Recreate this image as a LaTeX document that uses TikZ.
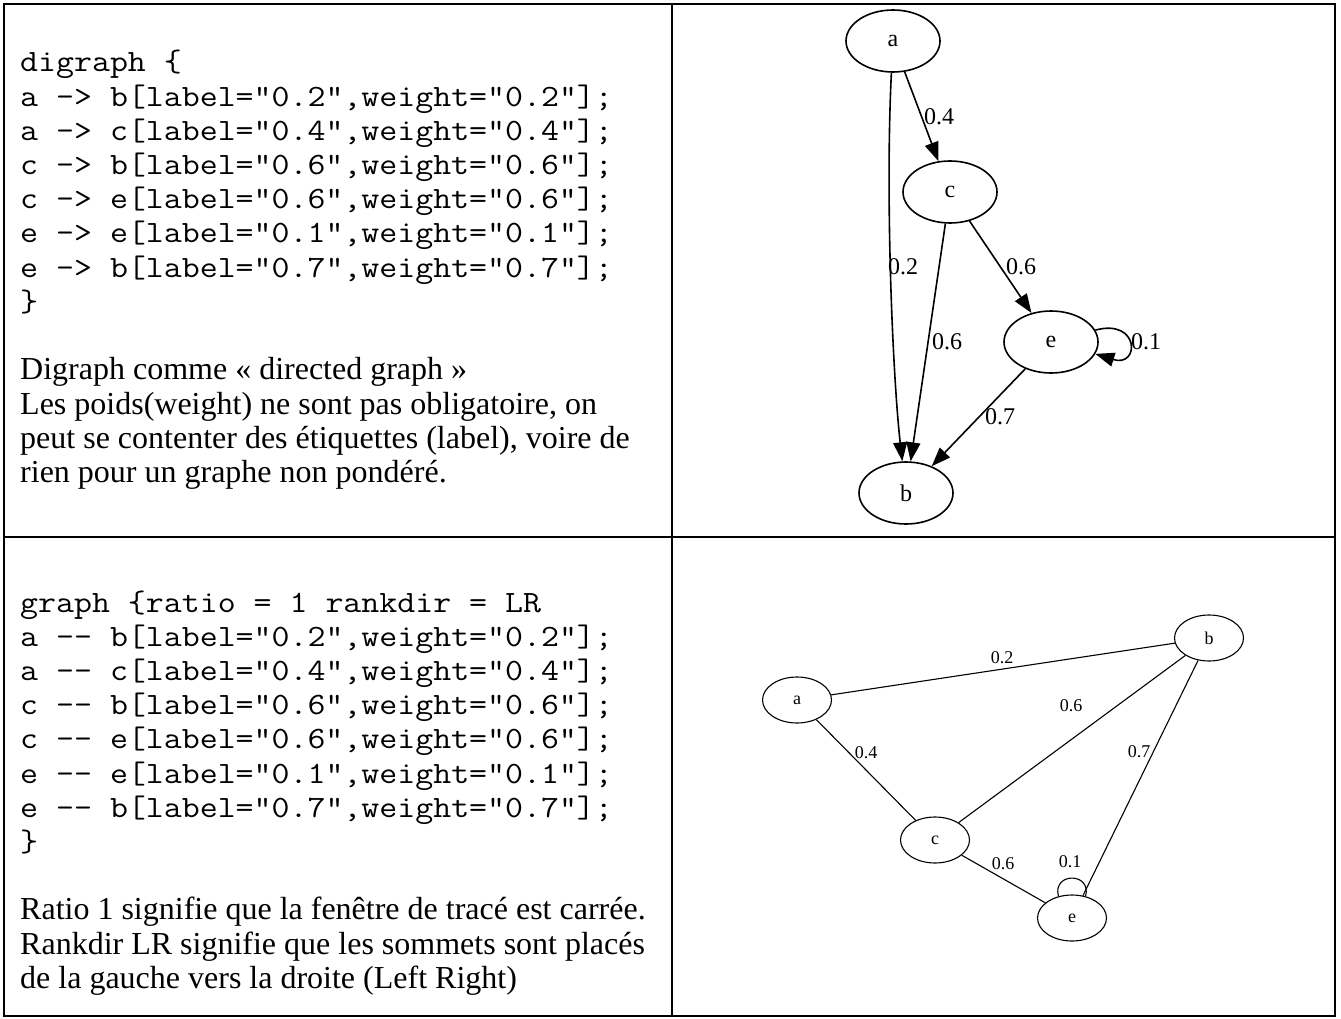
\documentclass[tikz,border=0pt]{standalone}
\usepackage{fontspec}
\usepackage{graphicx}
\setmainfont{Liberation Serif}
\usetikzlibrary{shapes.geometric,arrows.meta}
\newcommand{\codeline}[1]{\scalebox{1.125}[1]{#1}}
\begin{document}
\begin{tikzpicture}[x=1pt,y=-1pt,
  code/.style={anchor=base west, inner sep=0pt, font=\fontsize{31}{34}\selectfont\ttfamily},
  prose/.style={anchor=base west, inner sep=0pt, font=\fontsize{32}{34}\selectfont},
  gnode/.style={ellipse, draw, line width=1.6pt, minimum width=94pt, minimum height=62pt, inner sep=0pt, font=\fontsize{24}{24}\selectfont},
  glab/.style={inner sep=0pt, font=\fontsize{24}{24}\selectfont},
  garr/.style={line width=1.6pt, -{Triangle[length=19pt,width=14pt]}},
  hnode/.style={ellipse, draw, line width=1.1pt, minimum width=69pt, minimum height=46pt, inner sep=0pt, font=\fontsize{18}{18}\selectfont},
  hlab/.style={inner sep=0pt, font=\fontsize{18}{18}\selectfont},
  hedge/.style={line width=1.1pt},
  tb/.style={line width=2.2pt, line cap=rect},
  tbthin/.style={line width=1.1pt}
]
\fill[white] (0,0) rectangle (1341,1019);
\useasboundingbox (0,0) rectangle (1341,1019);

% table
\draw[tb] (4,4) -- (840,4);
\draw[tbthin] (840,4) -- (1169,4);
\draw[tb] (1169,4) -- (1335,4);
\draw[tb] (4,4) -- (4,1016);
\draw[tb] (1335,4) -- (1335,1016);
\draw[tb] (672,4) -- (672,1016);
\draw[tb] (4,1016) -- (1335,1016);
\draw[tb] (4,537) -- (758,537);
\draw[tbthin] (758,537) -- (1249,537);
\draw[tb] (1249,537) -- (1335,537);

% row 1 text
\node[code] (c1) at (20,72) {\codeline{digraph \{}};
\node[code] (c2) at (20,106.2) {\codeline{a -> b[label="0.2",weight="0.2"];}};
\node[code] (c3) at (20,140.4) {\codeline{a -> c[label="0.4",weight="0.4"];}};
\node[code] (c4) at (20,174.6) {\codeline{c -> b[label="0.6",weight="0.6"];}};
\node[code] (c5) at (20,208.8) {\codeline{c -> e[label="0.6",weight="0.6"];}};
\node[code] (c6) at (20,243) {\codeline{e -> e[label="0.1",weight="0.1"];}};
\node[code] (c7) at (20,277.2) {\codeline{e -> b[label="0.7",weight="0.7"];}};
\node[code] (c8) at (20,311.4) {\codeline{\}}};
\node[prose] (p1) at (20,379.8) {Digraph comme «~directed graph~»};
\node[prose] (p2) at (20,414) {Les poids(weight) ne sont pas obligatoire, on};
\node[prose] (p3) at (20,448.2) {peut se contenter des étiquettes (label), voire de};
\node[prose] (p4) at (20,482.4) {rien pour un graphe non pondéré.};

% row 2 text
\node[code] (d1) at (20,612) {\codeline{graph \{ratio = 1 rankdir = LR}};
\node[code] (d2) at (20,646.2) {\codeline{a -{}- b[label="0.2",weight="0.2"];}};
\node[code] (d3) at (20,680.4) {\codeline{a -{}- c[label="0.4",weight="0.4"];}};
\node[code] (d4) at (20,714.6) {\codeline{c -{}- b[label="0.6",weight="0.6"];}};
\node[code] (d5) at (20,748.8) {\codeline{c -{}- e[label="0.6",weight="0.6"];}};
\node[code] (d6) at (20,783) {\codeline{e -{}- e[label="0.1",weight="0.1"];}};
\node[code] (d7) at (20,817.2) {\codeline{e -{}- b[label="0.7",weight="0.7"];}};
\node[code] (d8) at (20,851.4) {\codeline{\}}};
\node[prose] (q1) at (20,919.8) {Ratio 1 signifie que la fenêtre de tracé est carrée.};
\node[prose] (q2) at (20,954) {Rankdir LR signifie que les sommets sont placés};
\node[prose] (q3) at (20,988.2) {de la gauche vers la droite (Left Right)};

% graph 1 (directed)
\node[gnode] (ga) at (893,41) {a};
\node[gnode] (gc) at (950,192) {c};
\node[gnode] (ge) at (1051,342) {e};
\node[gnode] (gb) at (906,493) {b};
\draw[garr] (ga) .. controls (885,200) and (893,380) .. (gb);
\draw[garr] (ga) -- (gc);
\draw[garr] (gc) -- (gb);
\draw[garr] (gc) -- (ge);
\draw[garr] (ge) -- (gb);
\draw[garr] (ge.15) .. controls (1140,318) and (1140,368) .. (ge.-15);
\node[glab] (l04) at (939,117) {0.4};
\node[glab] (l02) at (903,267) {0.2};
\node[glab] (l06a) at (947,342) {0.6};
\node[glab] (l06b) at (1021,267) {0.6};
\node[glab] (l07) at (1000,417) {0.7};
\node[glab] (l01) at (1146,342) {0.1};

% graph 2 (undirected)
\node[hnode] (ha) at (797,700) {a};
\node[hnode] (hb) at (1209,638) {b};
\node[hnode] (hc) at (935,840) {c};
\node[hnode] (he) at (1072,918) {e};
\draw[hedge] (ha) -- (hb);
\draw[hedge] (ha) -- (hc);
\draw[hedge] (hc) -- (hb);
\draw[hedge] (hc) -- (he);
\draw[hedge] (he) -- (hb);
\draw[hedge] (he.122) .. controls (1052,872) and (1092,872) .. (he.58);
\node[hlab] (m02) at (1002,658) {0.2};
\node[hlab] (m04) at (866,753) {0.4};
\node[hlab] (m06a) at (1071,706) {0.6};
\node[hlab] (m07) at (1139,752) {0.7};
\node[hlab] (m06b) at (1003,864) {0.6};
\node[hlab] (m01) at (1070,862) {0.1};
\end{tikzpicture}
\end{document}
